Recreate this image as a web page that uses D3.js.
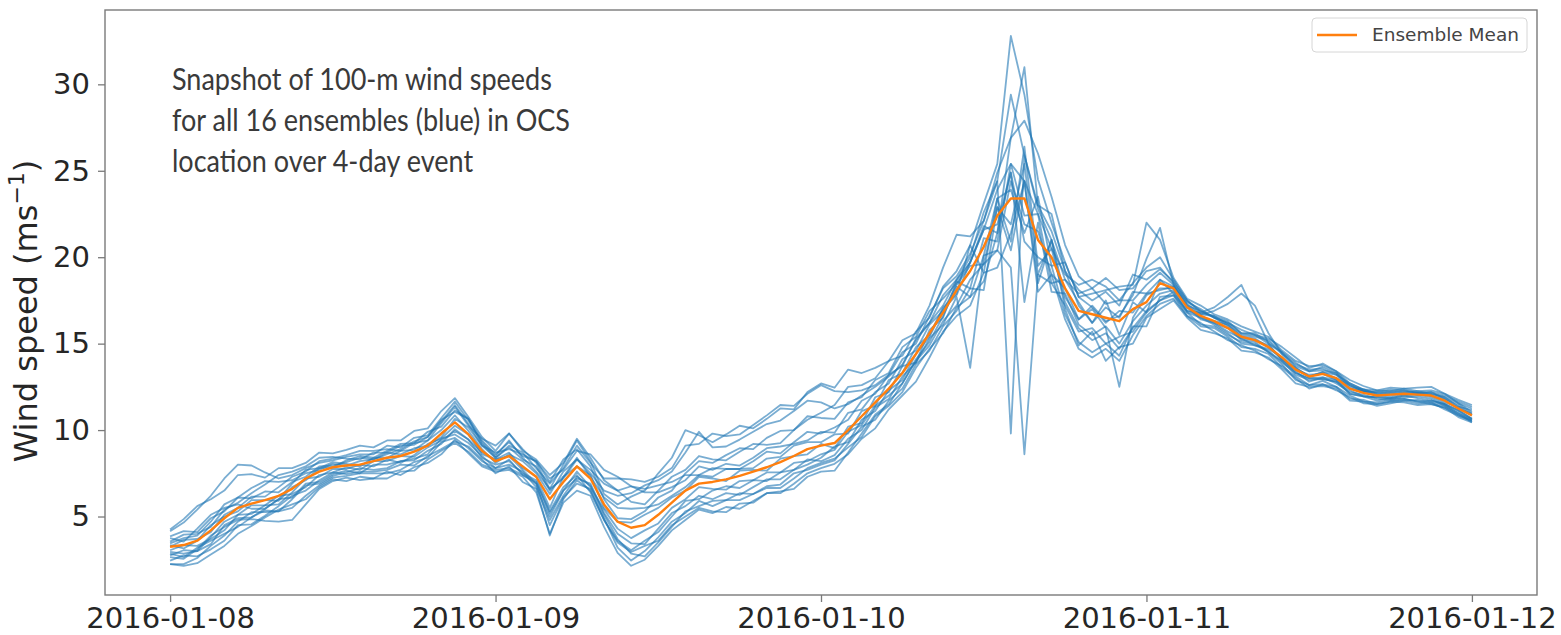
<!DOCTYPE html>
<html>
<head>
<meta charset="utf-8">
<script src="https://cdn.jsdelivr.net/npm/d3@7"></script>
<style>
  body { margin: 0; background: #fff; }
  svg { display: block; }
</style>
</head>
<body>
<div id="chart"></div>
<script>
// hourly 100-m wind speed, 2016-01-08 00:00 .. 2016-01-12 00:00 (97 values each)
var startTime = "2016-01-08T00:00:00Z";

var meanSpeed = [3.25,3.35,3.6,4.2,4.9,5.5,5.75,5.95,6.2,6.6,7.2,7.6,7.85, 7.95,8.0,8.2,8.4,8.5,8.75,9.1,9.8,10.45,9.75,8.8,8.2, 8.5,7.9,7.3,6.0,7.0,7.9,7.2,5.7,4.7,4.35,4.5,5.1, 5.8,6.5,6.9,7.0,7.15,7.35,7.6,7.85,8.15,8.5,8.9,9.1, 9.25,10.0,10.8,11.6,12.4,13.3,14.4,15.6,16.8,18.1, 19.2,20.6,22.4,23.4,23.4,21.0,20.0,18.2, 16.9,16.7,16.5,16.3,17.0,17.4,18.5, 18.2,17.1,16.6,16.3,15.9,15.4,15.2,14.8,14.2,13.5,13.1,13.25,13.0,12.4,12.15,12.0,12.05,12.1,12.05,12.0,11.7,11.25,10.85];

var member01 = [4.15,4.65,5.4,6.2,7.2,8.0,7.95,7.55,7.2,7.4,7.8,8.1,8.25, 8.45,8.6,8.6,9.1,9.0,9.55,9.7,10.7,11.65,10.55,9.3,8.5, 9.4,8.4,7.6,6.6,7.2,8.3,7.5,6.5,6.2,6.35,6.8,7.1, 7.6,8.7,9.9,9.0,9.05,9.45,9.9,10.35,10.55,11.1,11.7,11.6, 11.25,11.5,12.0,12.5,13.1,13.8,15.2,16.2,17.2,18.7, 19.7,21.6,23.9,25.4,24.4,22.5,20.5,19.0, 18.4,18.7,18.3,17.5,18.5,19.4,20.0, 18.7,17.5,16.9,16.5,16.2,15.8,15.5,15.0,14.5,13.9,13.4,13.45,13.3,12.6,12.25,12.2,12.35,12.3,12.15,12.2,12.0,11.65,11.35];
var member02 = [2.25,2.25,2.6,3.3,3.9,4.7,5.25,5.25,5.3,5.5,6.2,6.8,7.25, 7.35,7.5,7.5,7.5,7.7,8.15,8.4,9.3,9.55,8.95,8.2,7.8, 8.0,7.6,6.7,4.8,6.2,7.3,6.8,5.1,3.7,2.85,2.7,3.5, 4.4,5.3,5.6,5.9,5.95,5.95,6.3,6.65,6.65,7.2,7.8,8.1, 8.35,9.0,9.6,10.8,11.4,12.2,13.6,14.7,15.6,17.1, 17.7,18.6,21.4,24.9,20.9,20.0,19.5,16.7, 15.1,14.5,15.0,14.3,16.0,16.0,17.7, 17.8,16.6,16.0,15.9,15.4,14.8,14.7,14.4,13.6,13.0,12.4,12.65,12.5,12.0,11.65,11.6,11.75,11.7,11.75,11.6,11.4,10.85,10.55];
var member03 = [3.55,3.95,4.0,4.4,5.4,5.8,6.35,6.85,7.4,7.6,7.9,8.4,8.45, 8.35,8.3,8.7,8.7,9.1,9.15,9.6,10.6,11.05,10.65,9.2,8.4, 9.1,8.7,7.8,6.9,7.8,9.1,8.1,7.2,7.2,7.15,7.0,7.3, 7.8,9.1,9.2,9.8,9.65,9.75,10.3,10.85,11.45,11.4,12.1,12.6, 12.25,12.2,12.3,12.6,13.2,14.5,15.0,16.6,18.2,18.9, 20.2,22.1,24.4,9.8,25.9,22.8,21.0,18.7, 17.9,18.2,17.3,17.5,17.5,18.4,19.1, 18.4,17.2,16.9,16.5,16.0,15.3,15.2,14.9,14.1,13.5,13.2,13.25,12.9,12.4,12.25,12.0,11.95,12.1,12.15,12.0,11.6,11.35,10.85];
var member04 = [2.65,2.55,3.1,3.9,4.4,4.8,4.85,4.75,4.7,4.8,5.7,6.6,7.05, 7.25,7.1,7.2,7.6,7.4,7.85,8.1,8.6,9.45,8.65,7.9,7.6, 7.7,7.3,6.4,4.0,5.8,6.5,6.2,4.4,2.9,2.15,2.5,3.3, 4.2,4.8,5.4,5.2,5.55,5.45,5.9,6.35,6.35,6.9,7.5,7.8, 8.05,8.6,9.5,10.1,11.2,12.0,12.8,14.2,15.7,16.6, 17.2,19.1,19.4,21.4,24.4,18.0,19.0,16.4, 14.7,14.2,14.7,14.0,15.5,16.6,17.3, 17.6,16.6,16.2,15.7,15.2,14.9,14.6,14.1,13.7,13.1,12.6,12.65,12.3,11.9,11.55,11.5,11.65,11.6,11.45,11.5,11.3,10.75,10.45];
var member05 = [4.25,4.85,5.6,6.0,6.5,7.4,7.45,7.25,7.8,7.8,8.1,8.7,8.65, 8.85,9.1,9.0,9.4,9.4,9.95,10.1,11.1,11.85,10.75,9.6,8.8, 9.8,8.8,8.3,7.4,8.1,9.5,8.4,7.1,6.5,5.85,5.7,6.5, 7.3,7.7,8.5,8.3,8.25,8.75,9.2,9.15,9.25,10.0,10.6,11.0, 11.45,12.5,12.6,13.0,14.0,14.3,15.7,16.5,18.3,19.2, 20.7,23.1,25.4,32.8,29.4,24.5,22.0,19.7, 17.7,17.9,18.1,18.3,18.4,22.0,21.0, 18.8,17.6,17.2,16.7,16.4,16.0,15.7,15.4,14.6,14.0,13.7,13.75,13.4,12.9,12.55,12.3,12.45,12.4,12.45,12.5,12.1,11.75,11.45];
var member06 = [2.95,2.85,3.0,3.8,4.7,5.1,5.65,5.65,5.7,6.4,7.2,7.3,7.75, 7.75,8.0,7.9,8.3,8.1,8.55,9.2,9.5,10.25,9.75,8.6,8.3, 8.7,7.8,7.3,5.5,7.3,7.9,7.4,5.5,4.7,4.65,5.1,5.5, 6.1,6.5,7.3,7.2,7.05,7.65,7.7,7.65,8.35,8.5,8.6,9.2, 8.95,10.2,10.4,11.9,12.2,13.7,13.9,15.8,16.5,18.6, 18.2,21.1,20.9,25.4,22.4,22.5,18.5,18.7, 17.4,16.2,17.5,15.5,17.4,16.8,18.7, 17.9,16.9,16.8,17.1,17.7,18.4,16.7,15.0,14.0,13.2,12.9,12.95,12.8,12.3,11.95,11.9,11.85,12.0,12.05,11.9,11.5,11.15,10.65];
var member07 = [3.75,3.55,4.3,5.1,5.5,5.7,5.45,5.45,6.0,6.9,7.7,7.8,7.85, 8.25,8.5,8.4,8.8,9.2,9.25,9.4,10.4,11.35,10.25,9.5,9.1, 9.8,8.9,8.1,6.6,8.0,9.4,8.2,6.3,5.7,6.15,6.5,7.5, 8.4,10.0,9.7,9.3,9.75,10.25,10.1,10.65,11.25,11.2,12.2,12.7, 12.45,13.5,13.3,13.6,14.0,15.2,15.6,17.2,19.4,21.3, 21.2,22.1,24.9,26.9,27.9,26.0,23.5,20.7, 18.9,18.2,18.8,18.1,18.2,19.2,19.4, 18.5,17.5,16.8,16.6,16.3,15.6,15.5,15.3,14.8,14.2,13.6,13.85,13.4,12.7,12.35,12.3,12.25,12.2,12.25,12.1,11.9,11.55,11.05];
var member08 = [2.45,2.75,2.7,3.1,3.6,4.5,4.55,5.05,5.6,6.2,6.5,7.1,7.55, 7.45,7.6,7.6,7.7,8.0,7.95,8.5,8.9,9.35,9.05,8.3,7.5, 7.9,7.0,6.6,3.9,6.0,7.1,6.5,4.8,3.5,2.95,3.3,3.6, 4.5,5.0,5.5,5.3,5.25,5.75,5.8,6.35,6.45,6.6,7.3,7.6, 7.65,8.7,9.8,10.9,11.5,12.7,14.0,14.9,16.3,17.2, 18.7,19.6,20.4,19.4,8.6,19.0,18.5,17.2, 15.7,15.9,15.0,15.4,15.7,16.8,17.5, 18.0,16.8,16.5,16.1,15.6,15.0,14.9,14.6,13.9,13.3,13.0,12.95,12.8,12.1,11.95,11.7,11.85,11.8,11.65,11.7,11.5,10.95,10.65];
var member09 = [3.35,3.15,3.6,4.5,5.0,5.3,5.95,5.95,5.9,6.7,7.1,7.8,8.15, 8.05,7.9,8.4,8.4,8.8,8.85,9.4,10.0,10.85,9.95,8.9,8.1, 8.6,8.2,7.5,6.3,7.6,8.3,7.7,6.9,6.5,6.75,6.4,6.4, 6.7,7.1,7.9,7.7,8.05,7.95,8.4,8.95,9.05,9.2,9.4,9.9, 9.85,11.0,11.2,12.2,12.7,14.1,14.6,16.1,16.9,18.4, 19.5,19.6,22.9,21.9,25.4,19.0,21.0,17.7, 16.4,17.0,15.9,12.5,16.5,17.8,18.2, 18.2,17.2,16.5,16.3,16.1,15.4,15.3,14.8,14.1,13.6,13.1,13.35,13.0,12.6,12.25,12.0,12.15,12.3,12.15,12.0,11.8,11.25,10.95];
var member10 = [2.75,3.05,3.0,3.4,4.5,4.9,4.95,5.45,6.0,6.1,6.9,7.0,7.45, 7.65,7.5,8.0,8.0,8.2,8.25,8.8,9.2,10.05,9.45,8.4,8.0, 8.2,7.5,7.1,5.2,6.5,7.2,6.9,5.2,4.0,3.45,3.4,4.3, 5.2,5.6,6.2,6.0,6.35,6.25,6.7,7.15,7.15,7.7,8.3,8.2, 8.55,9.5,10.0,11.3,11.8,13.1,13.9,15.3,16.1,17.7, 13.6,20.1,23.4,20.9,26.4,19.5,20.5,17.4, 15.9,15.2,15.6,14.7,15.9,16.9,17.5, 17.8,16.8,16.1,16.0,15.5,15.1,15.0,14.5,13.8,12.9,12.6,12.85,12.5,11.8,11.75,11.5,11.65,11.8,11.65,11.5,11.3,10.95,10.45];
var member11 = [3.45,3.75,3.9,4.7,5.7,6.1,6.65,7.05,7.0,7.1,7.5,7.7,8.05, 7.95,8.2,8.3,8.7,8.6,8.95,9.1,9.6,10.65,10.15,9.1,8.7, 8.9,8.6,8.2,7.2,7.7,8.8,8.6,7.7,7.3,6.75,6.6,6.8, 7.0,7.4,7.4,7.8,7.75,7.75,8.2,8.75,8.65,9.3,9.9,9.8, 10.15,10.6,11.7,12.1,13.2,13.7,15.3,16.2,17.8,18.7, 20.0,22.6,24.4,29.4,25.9,23.0,21.5,19.2, 17.2,16.2,17.1,16.5,18.0,17.9,18.1, 18.3,17.4,17.0,16.5,16.2,15.6,15.6,15.1,14.4,13.8,13.5,13.55,13.2,12.7,12.35,12.1,12.05,12.2,12.05,12.1,11.9,11.35,11.15];
var member12 = [2.25,2.15,2.3,2.8,3.3,4.0,4.45,4.95,5.4,5.7,6.0,6.7,7.15, 7.05,7.3,7.2,7.2,7.6,7.65,8.3,8.8,9.25,8.75,8.0,7.7, 7.8,7.4,6.9,4.5,6.1,6.9,6.6,4.9,3.2,2.45,3.0,3.8, 4.7,5.2,5.9,5.6,5.95,6.35,6.3,6.75,6.85,7.5,7.7,8.0, 8.25,9.2,10.2,10.6,11.7,12.4,13.8,14.6,16.0,16.9, 18.2,18.1,22.9,20.4,24.4,18.5,21.0,17.0, 14.9,15.7,14.0,14.8,15.0,16.5,17.0, 17.5,16.5,15.8,15.6,15.3,14.6,14.5,14.2,13.5,12.7,12.5,12.55,12.4,11.7,11.65,11.4,11.55,11.7,11.55,11.6,11.2,10.85,10.55];
var member13 = [3.85,4.15,4.1,4.9,5.3,6.1,6.05,6.45,6.4,7.0,7.3,7.9,7.95, 8.15,8.4,8.3,8.6,8.9,9.35,9.6,10.5,11.45,10.35,9.1,8.4, 9.0,8.3,7.9,6.5,7.3,8.4,7.3,6.1,5.5,5.45,5.5,5.7, 6.2,6.7,7.4,7.3,7.75,7.75,7.8,8.35,8.45,9.1,9.3,9.3, 9.75,9.8,11.1,11.4,12.9,13.3,14.8,15.5,17.1,17.9, 20.7,19.1,23.4,23.9,21.4,23.5,19.5,19.7, 17.7,17.1,16.2,16.9,16.8,17.9,18.7, 18.3,17.1,16.7,16.9,17.3,17.9,17.2,15.6,14.4,13.6,13.1,13.35,13.2,12.4,12.25,12.2,12.15,12.1,12.15,12.2,11.8,11.45,10.95];
var member14 = [3.05,3.35,3.3,3.7,4.2,5.1,5.15,5.65,6.2,6.3,6.7,7.4,7.55, 7.85,7.7,8.2,8.2,8.5,8.45,9.0,9.4,9.95,9.45,8.7,8.3, 8.5,7.7,6.9,5.0,6.5,7.6,6.7,5.4,4.3,3.75,4.2,4.6, 5.5,6.0,6.7,6.6,6.55,7.05,7.1,7.05,7.55,8.1,8.2,8.6, 8.85,9.9,10.3,11.4,12.0,12.7,14.1,15.1,16.6,18.3, 17.7,20.1,20.4,24.4,21.9,21.5,19.0,18.2, 16.4,17.2,16.3,16.6,17.8,19.9,21.7, 18.4,17.1,16.4,16.2,15.9,15.2,15.1,14.5,14.0,13.4,12.8,13.05,12.7,12.2,12.05,11.8,11.75,11.9,11.95,11.8,11.4,11.05,10.55];
var member15 = [3.25,3.65,3.7,4.1,5.1,5.5,6.15,6.15,6.7,7.3,7.6,8.2,8.35, 8.55,8.8,8.8,8.9,8.8,9.25,9.9,10.2,11.15,10.65,9.4,8.6, 9.3,8.5,8.2,7.0,8.3,8.9,7.9,6.0,4.9,4.85,5.3,6.1, 6.5,7.5,8.2,8.1,8.55,8.95,8.9,9.55,9.95,10.0,10.8,10.7, 10.65,11.6,11.9,12.9,13.3,14.8,15.4,16.9,17.6,18.5, 19.7,21.8,21.4,26.9,31.0,23.0,22.5,19.2, 18.1,17.5,18.0,17.2,19.0,18.7,19.3, 18.6,17.3,16.7,16.6,16.1,15.5,15.4,15.2,14.5,13.7,13.4,13.65,13.3,12.5,12.35,12.1,12.25,12.4,12.25,12.3,12.1,11.55,11.25];
var member16 = [2.85,2.65,3.2,3.6,4.0,4.4,4.95,5.35,5.3,6.0,6.8,6.9,7.35, 7.55,7.8,7.7,7.8,8.2,8.35,8.6,9.5,9.75,9.25,8.5,7.8, 8.3,7.4,7.0,5.3,6.7,7.4,6.4,4.8,3.6,3.05,3.6,4.1, 5.0,5.9,6.0,6.5,6.75,6.65,7.1,7.55,7.55,7.7,8.0,8.4, 9.05,9.3,10.6,11.1,12.3,12.9,14.4,15.4,17.0,17.8, 19.7,21.6,21.9,24.9,17.4,22.0,18.0,17.9, 16.1,15.5,16.0,15.0,16.3,17.2,17.9, 18.1,16.9,16.6,16.2,15.7,15.3,14.9,14.7,14.2,13.3,13.0,13.05,12.9,12.1,11.95,11.9,11.85,12.0,11.85,11.7,11.5,11.15,10.65];

var members = [member01, member02, member03, member04, member05, member06, member07, member08,
               member09, member10, member11, member12, member13, member14, member15, member16];

var xTickDates = ["2016-01-08", "2016-01-09", "2016-01-10", "2016-01-11", "2016-01-12"];
var yTickValues = [5, 10, 15, 20, 25, 30];
var noteLines = ["Snapshot of 100-m wind speeds",
                 "for all 16 ensembles (blue) in OCS",
                 "location over 4-day event"];
var legendLabel = "Ensemble Mean";

// canvas and plot frame
var W = 1561, H = 635;
var margin = {top: 10, right: 24, bottom: 40, left: 105};
var width = W - margin.left - margin.right,
    height = H - margin.top - margin.bottom;

var t0 = new Date(startTime);
function hourToDate(h) { return new Date(t0.getTime() + h * 3600 * 1000); }

// matplotlib style 5% padding on both ends
var x = d3.scaleUtc()
  .domain([hourToDate(-4.8), hourToDate(96 + 4.8)])
  .range([0, width]);

var y = d3.scaleLinear()
  .domain([0.46, 34.3])
  .range([height, 0]);

var svg = d3.select("#chart").append("svg")
  .attr("width", W)
  .attr("height", H);

var main = svg.append("g")
  .attr("transform", "translate(" + margin.left + "," + margin.top + ")");

main.append("clipPath")
  .attr("id", "clip")
  .append("rect")
  .attr("width", width)
  .attr("height", height);

var line = d3.line()
  .x(function(d, i) { return x(hourToDate(i)); })
  .y(function(d) { return y(d); });

var plot = main.append("g").attr("clip-path", "url(#clip)");

// ensemble members
plot.selectAll("path.member")
  .data(members)
  .enter().append("path")
  .attr("class", "member")
  .attr("d", line)
  .attr("fill", "none")
  .attr("stroke", "#1f77b4")
  .attr("stroke-opacity", 0.6)
  .attr("stroke-width", 1.8)
  .attr("stroke-linejoin", "round");

// ensemble mean
plot.append("path")
  .datum(meanSpeed)
  .attr("d", line)
  .attr("fill", "none")
  .attr("stroke", "#ff7f0e")
  .attr("stroke-width", 2.4)
  .attr("stroke-linejoin", "round");

// axes
var fmt = d3.utcFormat("%Y-%m-%d");
var xAxis = d3.axisBottom(x)
  .tickValues(xTickDates.map(function(s) { return new Date(s + "T00:00:00Z"); }))
  .tickFormat(fmt)
  .tickSize(7)
  .tickPadding(5.5);

var yAxis = d3.axisLeft(y)
  .tickValues(yTickValues)
  .tickSize(7)
  .tickPadding(8);

var gx = main.append("g")
  .attr("transform", "translate(0," + height + ")")
  .call(xAxis);
var gy = main.append("g").call(yAxis);

[gx, gy].forEach(function(g) {
  g.select(".domain").remove();
  g.selectAll(".tick line").attr("stroke", "#7a7a7a").attr("stroke-width", 1.3);
  g.selectAll(".tick text")
    .attr("fill", "#262626")
    .style("font-family", "DejaVu Sans")
    .style("font-size", "29px");
});

// frame (all four spines)
main.append("rect")
  .attr("width", width)
  .attr("height", height)
  .attr("fill", "none")
  .attr("stroke", "#7a7a7a")
  .attr("stroke-width", 1.4);

// y-axis title
var ylab = svg.append("text")
  .attr("transform", "translate(37,311)rotate(-90)")
  .attr("text-anchor", "middle")
  .attr("fill", "#262626")
  .style("font-family", "DejaVu Sans")
  .style("font-size", "32px");
ylab.append("tspan").text("Wind speed (ms");
ylab.append("tspan").attr("dy", "-0.6em").style("font-size", "22px").text("\u22121");
ylab.append("tspan").attr("dy", "0.4em").text(")");

// annotation, squeezed to the width of the original (narrow) face
var note = svg.append("g")
  .attr("transform", "translate(172,0)");
var noteText = note.selectAll("text")
  .data(noteLines)
  .enter().append("text")
  .attr("x", 0)
  .attr("y", function(d, i) { return 90 + i * 41; })
  .attr("fill", "#3a3a3a")
  .style("font-family", "Lato")
  .style("font-size", "30px")
  .text(function(d) { return d; });
var k = 398 / noteText.nodes()[1].getComputedTextLength();
noteText.each(function() {
  var len = this.getComputedTextLength();
  d3.select(this).attr("textLength", len * k).attr("lengthAdjust", "spacingAndGlyphs");
});

// legend
var lg = svg.append("g").attr("transform", "translate(1312,18)");
lg.append("rect")
  .attr("width", 215)
  .attr("height", 34)
  .attr("rx", 4)
  .attr("fill", "#fff")
  .attr("fill-opacity", 0.85)
  .attr("stroke", "#d6d6d6")
  .attr("stroke-width", 1);
lg.append("line")
  .attr("x1", 5).attr("x2", 45)
  .attr("y1", 17).attr("y2", 17)
  .attr("stroke", "#ff7f0e")
  .attr("stroke-width", 2.4);
lg.append("text")
  .attr("x", 60)
  .attr("y", 17)
  .attr("dy", "0.35em")
  .attr("fill", "#444")
  .style("font-family", "DejaVu Sans")
  .style("font-size", "18.5px")
  .text(legendLabel);
</script>
</body>
</html>
